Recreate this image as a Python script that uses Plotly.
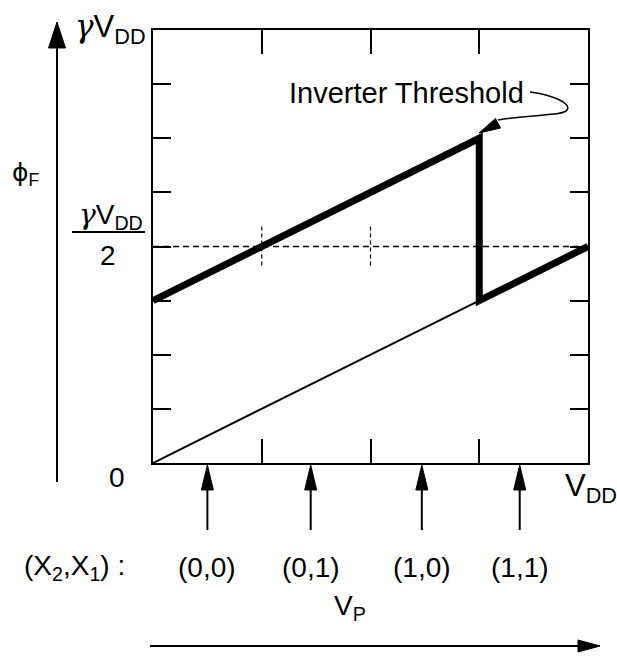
import plotly.graph_objects as go

# ---------------- data ----------------
vp_thin = [0.0, 0.75]          # V_P / V_DD
phi_thin = [0, 3]              # phi_F in units of gamma*V_DD/8
vp_thick = [0.0, 0.75, 0.75, 1.0]
phi_thick = [3, 6, 3, 4]
half_level = 4                 # gamma*V_DD/2
y_ticks = [1, 2, 3, 4, 5, 6, 7]
x_ticks = [0.25, 0.5, 0.75]
guide_x = [0.25, 0.5]
state_x = [0.125, 0.3625, 0.618, 0.843]
state_labels = ["(0,0)", "(0,1)", "(1,0)", "(1,1)"]

W, H = 617, 660
PL, PR, PT, PB = 153, 588, 30, 463
FONT = "Liberation Sans, Arial, sans-serif"
GAMMA = '<span style="font-family:DejaVu Serif;font-style:italic">γ</span>'


def px(xp):
    return (xp - PL) / (PR - PL)


def py(yp):
    return (PB - yp) / (PB - PT)


fig = go.Figure()
fig.add_trace(go.Scatter(x=[0, 1], y=[half_level, half_level], mode="lines",
                         line=dict(color="black", width=1.5, dash="6px,4px"), hoverinfo="skip"))
for g in guide_x:
    fig.add_trace(go.Scatter(x=[g, g], y=[half_level - 0.35, half_level + 0.4], mode="lines",
                             line=dict(color="black", width=1.2, dash="4px,3px"), hoverinfo="skip"))
fig.add_trace(go.Scatter(x=vp_thin, y=phi_thin, mode="lines",
                         line=dict(color="black", width=2)))
fig.add_trace(go.Scatter(x=vp_thick, y=phi_thick, mode="lines",
                         line=dict(color="black", width=7)))

shapes = []
# state arrows below axis
hw = 6 / (PR - PL)
for sx in state_x:
    shapes.append(dict(type="line", xref="x", yref="paper", x0=sx, x1=sx,
                       y0=py(486), y1=py(530), line=dict(color="black", width=2)))
    shapes.append(dict(type="path", xref="x", yref="paper",
                       path=f"M{sx},{py(465)} L{sx - hw},{py(490)} L{sx + hw},{py(490)} Z",
                       fillcolor="black", line=dict(color="black", width=1)))

# left vertical arrow
shapes.append(dict(type="line", xref="paper", yref="paper", x0=px(57), x1=px(57),
                   y0=py(45), y1=py(482), line=dict(color="black", width=2)))
shapes.append(dict(type="path", xref="paper", yref="paper",
                   path=f"M{px(57)},{py(22)} L{px(48.5)},{py(48)} L{px(65.5)},{py(48)} Z",
                   fillcolor="black", line=dict(color="black", width=1)))
# bottom V_P arrow
shapes.append(dict(type="line", xref="paper", yref="paper", x0=px(150), x1=px(582),
                   y0=py(646), y1=py(646), line=dict(color="black", width=2)))
shapes.append(dict(type="path", xref="paper", yref="paper",
                   path=f"M{px(600)},{py(646)} L{px(578)},{py(640)} L{px(578)},{py(652)} Z",
                   fillcolor="black", line=dict(color="black", width=1)))
# fraction bar
shapes.append(dict(type="line", xref="paper", yref="paper", x0=px(72), x1=px(145),
                   y0=py(232), y1=py(232), line=dict(color="black", width=2)))
# curl pointer for inverter threshold
curl = (f"M{px(530)},{py(92)} C{px(552)},{py(95)} {px(572)},{py(103)} {px(567)},{py(110)} "
        f"C{px(563)},{py(116)} {px(535)},{py(114)} {px(498)},{py(120)}")
shapes.append(dict(type="path", xref="paper", yref="paper", path=curl,
                   line=dict(color="black", width=1.5)))
shapes.append(dict(type="path", xref="paper", yref="paper",
                   path=f"M{px(479)},{py(133)} L{px(495.5)},{py(118.5)} L{px(500.5)},{py(128)} Z",
                   fillcolor="black", line=dict(color="black", width=1)))

annotations = []


def label(text, xc, yc, size, xanchor="center"):
    annotations.append(dict(text=text, xref="paper", yref="paper", x=px(xc), y=py(yc),
                            xanchor=xanchor, yanchor="middle", showarrow=False,
                            font=dict(family=FONT, size=size, color="black")))


label(GAMMA + "V<sub>DD</sub>", 110, 28, 31)
label(GAMMA + "V<sub>DD</sub>", 111, 216, 28)
label("2", 108, 255, 28)
label('<span style="font-family:DejaVu Sans">ϕ</span><sub>F</sub>', 25, 174, 25)
label("0", 117, 477, 28)
label("V<sub>DD</sub>", 591, 488, 31)
label("Inverter Threshold", 287, 93, 29, xanchor="left")
label("(X<sub>2</sub>,X<sub>1</sub>) :", 22, 567, 28, xanchor="left")
for sx, sl in zip(state_x, state_labels):
    annotations.append(dict(text=sl, xref="x", yref="paper", x=sx, y=py(567),
                            xanchor="center", yanchor="middle", showarrow=False,
                            font=dict(family=FONT, size=28, color="black")))
label("V<sub>P</sub>", 350, 607, 28)

fig.update_layout(
    width=W, height=H, autosize=False,
    margin=dict(l=PL, r=W - PR, t=PT, b=H - PB, pad=0),
    paper_bgcolor="white", plot_bgcolor="white",
    showlegend=False,
    shapes=shapes, annotations=annotations,
    xaxis=dict(range=[0, 1], showgrid=False, zeroline=False, showline=True, linecolor="black",
               linewidth=2, mirror="ticks", ticks="inside", ticklen=24, tickwidth=2,
               tickcolor="black", tickvals=x_ticks, showticklabels=False, fixedrange=True),
    yaxis=dict(range=[0, 8], showgrid=False, zeroline=False, showline=True, linecolor="black",
               linewidth=2, mirror="ticks", ticks="inside", ticklen=18, tickwidth=2,
               tickcolor="black", tickvals=y_ticks, showticklabels=False, fixedrange=True),
)

fig.write_html("out.html")
